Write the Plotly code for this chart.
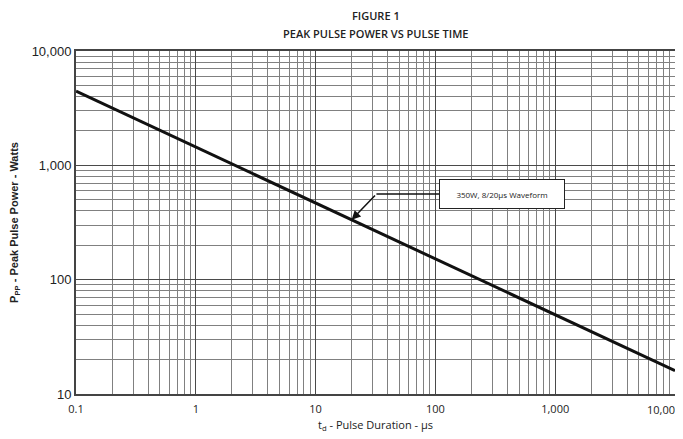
import math
import plotly.graph_objects as go

# Data
pulse_time_us = [0.1, 1, 10, 100, 1000, 10000]
peak_power_w = [4450, 1443, 468, 152, 49, 16]

x_tick_vals = [0.1, 1, 10, 100, 1000, 10000]
x_tick_text = ["0.1", "1", "10", "100", "1,000", "10,000"]
y_tick_vals = [10, 100, 1000, 10000]
y_tick_text = ["10", "100", "1,000", "10,000"]

callout_text = "350W, 8/20\u00b5s Waveform"
callout_point = (20, 334)      # point on curve the arrow touches
callout_knee = (32.2, 561)     # bend of the leader line
callout_box = (358, 561)       # centre of the label box

fig = go.Figure()

fig.add_trace(go.Scatter(
    x=pulse_time_us, y=peak_power_w, mode="lines",
    line=dict(color="#111111", width=3), showlegend=False, hoverinfo="skip"))

# leader line (horizontal part)
fig.add_trace(go.Scatter(
    x=[callout_knee[0], callout_box[0]], y=[callout_knee[1], callout_box[1]],
    mode="lines", line=dict(color="#111111", width=1.5),
    showlegend=False, hoverinfo="skip"))

fig.add_annotation(
    x=math.log10(callout_point[0]), y=math.log10(callout_point[1]),
    ax=math.log10(callout_knee[0]), ay=math.log10(callout_knee[1]),
    xref="x", yref="y", axref="x", ayref="y",
    text="", showarrow=True, arrowhead=2, arrowsize=1.2, arrowwidth=1.5,
    arrowcolor="#111111")

fig.add_annotation(
    x=math.log10(callout_box[0]), y=math.log10(callout_box[1]),
    xref="x", yref="y", text=callout_text, showarrow=False,
    font=dict(family="Open Sans", size=8, color="#222222"),
    bgcolor="white", bordercolor="#222222", borderwidth=1,
    width=122, height=26)

fig.add_annotation(
    x=0.5, y=1.103, xref="paper", yref="paper", text="FIGURE 1",
    showarrow=False, yanchor="middle",
    font=dict(family="Open Sans", size=11, color="#222222", weight=600))
fig.add_annotation(
    x=0.5, y=1.05, xref="paper", yref="paper",
    text="PEAK PULSE POWER VS PULSE TIME",
    showarrow=False, yanchor="middle",
    font=dict(family="Open Sans", size=11, color="#222222", weight=600))

# last x tick label sits flush with the right edge in the reference
fig.add_annotation(
    x=1, y=-0.045, xref="paper", yref="paper", text=x_tick_text[-1],
    showarrow=False, xanchor="right", yanchor="middle", xshift=8,
    font=dict(family="Open Sans", size=11, color="#222222"))

axis_common = dict(
    type="log", showline=True, mirror=True, linecolor="#444444", linewidth=2,
    gridcolor="#4a4a4a", gridwidth=1.3, ticks="", zeroline=False,
    automargin=False,
    minor=dict(dtick="D1", showgrid=True, gridcolor="#808080", gridwidth=1.3),
)

fig.update_xaxes(
    **axis_common,
    range=[-1, 4], tickvals=x_tick_vals[:-1], ticktext=x_tick_text[:-1],
    ticklabelstandoff=4,
    tickfont=dict(family="Open Sans", size=11, color="#222222"),
    title=dict(text="t<sub>d</sub> - Pulse Duration - \u00b5s", standoff=6,
               font=dict(family="Open Sans", size=11, color="#222222")),
)
fig.update_yaxes(
    **axis_common,
    range=[1, 4], tickvals=y_tick_vals, ticktext=y_tick_text,
    tickfont=dict(family="Liberation Sans", size=13, color="#222222"),
    title=dict(text="P<sub>PP</sub> - Peak Pulse Power - Watts", standoff=14,
               font=dict(family="Liberation Sans", size=11, color="#222222",
                         weight="bold")),
)

# the page body adds an 8px offset, so the figure is sized to fit the window
fig.update_layout(
    width=675, height=431,
    margin=dict(l=68, r=8, t=43, b=45),
    paper_bgcolor="white", plot_bgcolor="white",
    showlegend=False,
)

fig.write_html("out.html")
